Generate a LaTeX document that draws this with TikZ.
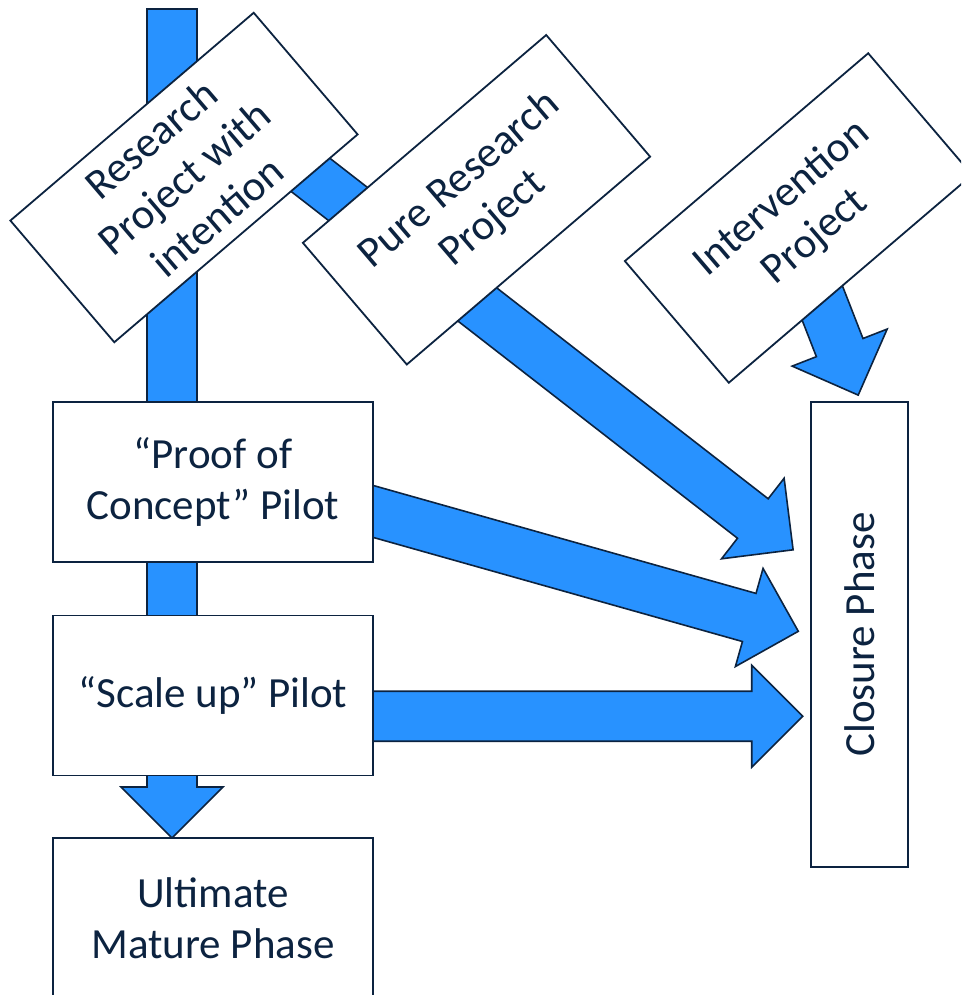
\documentclass[tikz,border=0pt]{standalone}
\usepackage{fontspec}
\setmainfont{Carlito}
\usetikzlibrary{calc}
\definecolor{navy}{RGB}{12,35,64}
\definecolor{arrowblue}{RGB}{40,146,255}
\tikzset{
  box/.style={draw=navy, fill=white, line width=1.8pt, inner sep=0pt,
    text=navy, align=center, font=\fontsize{43}{51}\selectfont},
  fatarrowstyle/.style={fill=arrowblue, draw=navy, line width=1.6pt, line join=miter}
}
\newcommand\fatarrowdraw[2]{%
  \coordinate (fa-c) at ($(#2)!51pt!(#1)$);
  \filldraw[fatarrowstyle] ($(#1)!25pt!90:(#2)$) -- ($(fa-c)!25pt!90:(#2)$)
    -- ($(fa-c)!51pt!90:(#2)$) -- (#2) -- ($(fa-c)!51pt!-90:(#2)$)
    -- ($(fa-c)!25pt!-90:(#2)$) -- ($(#1)!25pt!-90:(#2)$) -- cycle;
}
\begin{document}
\begin{tikzpicture}[x=1pt,y=-1pt]
\useasboundingbox (0,0) rectangle (961,995);
\clip (0,0) rectangle (961,995);
% connector end points
\coordinate (v0) at (172,9);
\coordinate (v1) at (172,838);
\coordinate (r0) at (229.6,112);
\coordinate (r1) at (793.1,549.8);
\coordinate (p0) at (300,490.8);
\coordinate (p1) at (798.3,631.3);
\coordinate (s0) at (300,716.2);
\coordinate (s1) at (802.7,716.2);
\coordinate (i0) at (774.7,181);
\coordinate (i1) at (858.2,395.1);
% arrows (behind boxes)
\fatarrowdraw{v0}{v1}
\fatarrowdraw{r0}{r1}
\fatarrowdraw{p0}{p1}
\fatarrowdraw{s0}{s1}
\fatarrowdraw{i0}{i1}
% boxes
\node[box, minimum width=320pt, minimum height=160pt, rotate=40.5] (research) at (184,177.5) {Research\\Project with\\intention};
\node[box, minimum width=320pt, minimum height=160pt, rotate=40.5] (pure) at (476.5,199.75) {Pure Research\\Project};
\node[box, minimum width=320pt, minimum height=160pt, rotate=40.5] (intervention) at (798.5,218) {Intervention\\Project};
\node[box, minimum width=320pt, minimum height=160pt] (proof) at (213,482) {``Proof of\\Concept'' Pilot};
\node[box, minimum width=320pt, minimum height=160pt] (scale) at (213,695.5) {``Scale up'' Pilot};
\node[box, minimum width=320pt, minimum height=160pt] (ultimate) at (213,918) {Ultimate\\Mature Phase};
\node[box, minimum width=465pt, minimum height=97pt, rotate=90] (closure) at (859.5,634.5) {Closure Phase};
\end{tikzpicture}
\end{document}
